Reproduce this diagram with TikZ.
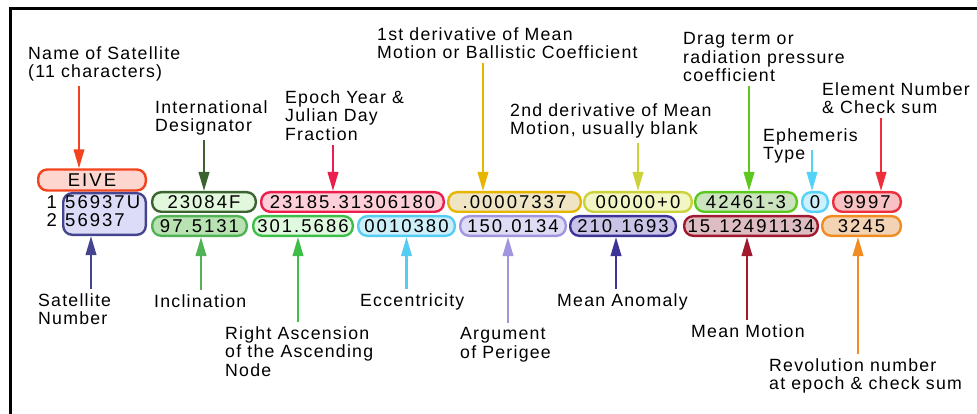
\documentclass[tikz,border=0pt]{standalone}
\usepackage{fontspec}
\setmainfont{Liberation Sans}
\newfontfamily\lblfont[LetterSpace=7]{Liberation Sans}
\newfontfamily\boxfont[LetterSpace=11]{Liberation Sans}
\usetikzlibrary{arrows.meta}

% colori dei campi (bordo / riempimento)
\definecolor{nameC}{HTML}{F2431E} \definecolor{nameF}{HTML}{FDD7CF}
\definecolor{satC}{HTML}{45458F}  \definecolor{satF}{HTML}{DCDCF8}
\definecolor{intlC}{HTML}{3B6330} \definecolor{intlF}{HTML}{E2F8DC}
\definecolor{inclC}{HTML}{52B256} \definecolor{inclF}{HTML}{B9E2B2}
\definecolor{epochC}{HTML}{EC1E4E} \definecolor{epochF}{HTML}{FDD0D9}
\definecolor{raanC}{HTML}{3EBE48} \definecolor{raanF}{HTML}{DFF9DF}
\definecolor{firstC}{HTML}{E5B500} \definecolor{firstF}{HTML}{EFE5C5}
\definecolor{eccC}{HTML}{55CCF2}  \definecolor{eccF}{HTML}{CCEFFA}
\definecolor{argC}{HTML}{A295DE}  \definecolor{argF}{HTML}{DEDCF4}
\definecolor{secondC}{HTML}{CCD23A} \definecolor{secondF}{HTML}{F2F6C4}
\definecolor{maC}{HTML}{3E3396}   \definecolor{maF}{HTML}{C9C3E8}
\definecolor{dragC}{HTML}{5CC81E} \definecolor{dragF}{HTML}{CCE3C0}
\definecolor{mmC}{HTML}{A0192E}   \definecolor{mmF}{HTML}{DDBDC2}
\definecolor{ephC}{HTML}{55D2FA}  \definecolor{ephF}{HTML}{CCF0FC}
\definecolor{elemC}{HTML}{EE2E3A} \definecolor{elemF}{HTML}{F8C2C4}
\definecolor{revC}{HTML}{F08C22}  \definecolor{revF}{HTML}{F2D3B4}

\tikzset{
  field/.style 2 args={draw=#1, fill=#2, line width=2.4pt, rounded corners=9pt,
    minimum height=19.6pt, inner sep=0pt, text height=13.2pt, text depth=0pt,
    font=\boxfont\fontsize{18.5}{18.5}\selectfont},
  digits/.style={inner sep=0pt, font=\boxfont\fontsize{18.5}{18.5}\selectfont},
  lbl/.style={anchor=north west, inner sep=0pt, align=left,
    font=\lblfont\fontsize{17.7}{18.8}\selectfont},
  pointer/.style={draw=#1, line width=2.2pt, shorten <=4pt,
    -{Triangle[length=19pt,width=10.5pt]}},
}

\begin{document}
\begin{tikzpicture}[x=1pt, y=-1pt]
        \useasboundingbox (0,0) rectangle (977,414);

        % Cornice
        \draw[line width=3pt] (10.8,414) -- (10.8,9) -- (977,9);

        % Nome e numero del satellite
        \node[field={nameC}{nameF}, minimum width=107.6pt, minimum height=21pt] (eive) at (92,180) {EIVE};
        \node[field={satC}{satF}, minimum width=82.6pt, minimum height=41.6pt] (sat) at (104.5,214) {};
        \node[digits, anchor=base west] (satA) at (65,208.3) {56937U};
        \node[digits, anchor=base west] (satB) at (65,226.7) {56937};
        \node[digits, anchor=base east] (rowA) at (57,208.3) {1};
        \node[digits, anchor=base east] (rowB) at (57,226.7) {2};

        % Riga 1
        \node[field={intlC}{intlF}, minimum width=103.6pt] (intl) at (204,202) {23084F};
        \node[field={epochC}{epochF}, minimum width=182.6pt] (epoch) at (352.5,202) {23185.31306180};
        \node[field={firstC}{firstF}, minimum width=132.6pt] (first) at (514.5,202) {.00007337};
        \node[field={secondC}{secondF}, minimum width=107.6pt] (second) at (638,202) {00000+0};
        \node[field={dragC}{dragF}, minimum width=101.6pt] (drag) at (746,202) {42461-3};
        \node[field={ephC}{ephF}, minimum width=25.6pt] (eph) at (815,202) {0};
        \node[field={elemC}{elemF}, minimum width=67.6pt] (elem) at (867,202) {9997};

        % Riga 2
        \node[field={inclC}{inclF}, minimum width=94.6pt] (incl) at (199.5,226) {97.5131};
        \node[field={raanC}{raanF}, minimum width=99.6pt] (raan) at (303,226) {301.5686};
        \node[field={eccC}{eccF}, minimum width=96.6pt] (ecc) at (406.5,226) {0010380};
        \node[field={argC}{argF}, minimum width=105.6pt] (arg) at (513,226) {150.0134};
        \node[field={maC}{maF}, minimum width=105.6pt] (ma) at (623,226) {210.1693};
        \node[field={mmC}{mmF}, minimum width=133.6pt] (mm) at (751,226) {15.12491134};
        \node[field={revC}{revF}, minimum width=78.6pt] (rev) at (861.5,226) {3245};

        % Didascalie sopra
        \node[lbl] (lName) at (28,46) {Name of Satellite\\(11 characters)};
        \node[lbl] (lIntl) at (155,100) {International\\Designator};
        \node[lbl] (lEpoch) at (285,90) {Epoch Year \&\\Julian Day\\Fraction};
        \node[lbl] (lFirst) at (377,27) {1st derivative of Mean\\Motion or Ballistic Coefficient};
        \node[lbl] (lSecond) at (510,103) {2nd derivative of Mean\\Motion, usually blank};
        \node[lbl] (lDrag) at (683,32) {Drag term or\\radiation pressure\\coefficient};
        \node[lbl] (lElem) at (822,82) {Element Number\\\& Check sum};
        \node[lbl] (lEph) at (763,128) {Ephemeris\\Type};

        % Didascalie sotto
        \node[lbl] (lSat) at (38,293) {Satellite\\Number};
        \node[lbl] (lIncl) at (154,294) {Inclination};
        \node[lbl] (lRaan) at (225,326) {Right Ascension\\of the Ascending\\Node};
        \node[lbl] (lEcc) at (360,293) {Eccentricity};
        \node[lbl] (lArg) at (460,327) {Argument\\of Perigee};
        \node[lbl] (lMa) at (557,293) {Mean Anomaly};
        \node[lbl] (lMm) at (691,324) {Mean Motion};
        \node[lbl] (lRev) at (769,358) {Revolution number\\at epoch \& check sum};

        % Frecce dall'alto
        \draw[pointer=nameC] ([xshift=-13pt]eive.north |- lName.south) -- ([xshift=-13pt]eive.north);
        \draw[pointer=intlC] (intl.north |- lIntl.south) -- (intl.north);
        \draw[pointer=epochC] ([xshift=-19.5pt]epoch.north |- lEpoch.south) -- ([xshift=-19.5pt]epoch.north);
        \draw[pointer=firstC] ([xshift=-31.5pt]first.north |- lFirst.south) -- ([xshift=-31.5pt]first.north);
        \draw[pointer=secondC] (second.north |- lSecond.south) -- (second.north);
        \draw[pointer=dragC] ([xshift=3pt]drag.north |- lDrag.south) -- ([xshift=3pt]drag.north);
        \draw[pointer=ephC] ([xshift=-3pt]eph.north |- lEph.east) -- ([xshift=-3pt]eph.north);
        \draw[pointer=elemC] ([xshift=14pt]elem.north |- lElem.south) -- ([xshift=14pt]elem.north);

        % Frecce dal basso
        \draw[pointer=satC] ([xshift=-13.5pt]sat.south |- lSat.north) -- ([xshift=-13.5pt]sat.south);
        \draw[pointer=inclC] ([xshift=1.5pt]incl.south |- lIncl.north) -- ([xshift=1.5pt]incl.south);
        \draw[pointer=raanC] ([xshift=-5pt]raan.south |- lRaan.north) -- ([xshift=-5pt]raan.south);
        \draw[pointer=eccC] (ecc.south |- lEcc.north) -- (ecc.south);
        \draw[pointer=argC] ([xshift=-5pt]arg.south |- lArg.north) -- ([xshift=-5pt]arg.south);
        \draw[pointer=maC] ([xshift=-7pt]ma.south |- lMa.north) -- ([xshift=-7pt]ma.south);
        \draw[pointer=mmC] ([xshift=-4pt]mm.south |- lMm.north) -- ([xshift=-4pt]mm.south);
        \draw[pointer=revC] ([xshift=-3.5pt]rev.south |- lRev.north) -- ([xshift=-3.5pt]rev.south);
\end{tikzpicture}
\end{document}
